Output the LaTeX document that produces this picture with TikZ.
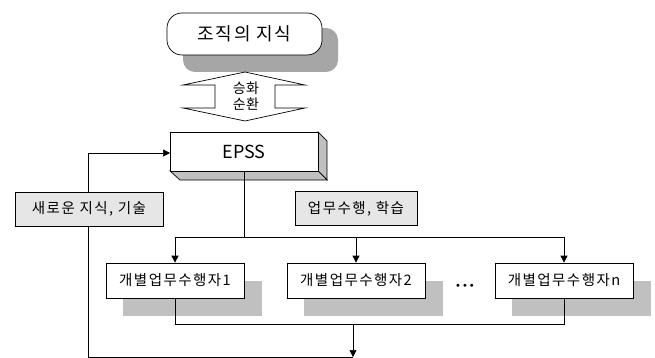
\documentclass[tikz,border=0pt]{standalone}
\usepackage{fontspec}
\setmainfont{Noto Sans CJK KR}
\newfontfamily\symfont{DejaVu Sans}
\usetikzlibrary{arrows.meta,calc}
\definecolor{shadowgray}{HTML}{C0C0C0}
\definecolor{darkshadow}{HTML}{A6A6A6}
\definecolor{labelfill}{HTML}{E6E6E6}
\tikzset{
  conn/.style={line width=0.7pt, draw=black},
  arr/.style={conn, -{Triangle[length=7pt,width=7pt]}},
  boxfont/.style={font=\fontsize{14.5}{16}\selectfont\addfontfeature{LetterSpace=10}},
  workerbox/.style={draw=black, line width=0.7pt, fill=white, minimum width=138pt, minimum height=35pt, inner sep=0pt, boxfont},
  shadowbox/.style={fill=shadowgray, draw=none, minimum width=139pt, minimum height=35pt, inner sep=0pt},
  labelbox/.style={draw=black, line width=0.7pt, fill=labelfill, minimum height=34pt, inner sep=0pt, boxfont},
  arrowtext/.style={font=\fontsize{14}{15}\selectfont\addfontfeature{LetterSpace=3}},
}
\begin{document}
\begin{tikzpicture}[x=1pt,y=-1pt]
\useasboundingbox (0,0) rectangle (655,358);
% top organisational knowledge box
\node[fill=darkshadow, rounded corners=12pt, minimum width=155pt, minimum height=44pt, inner sep=0pt] (topshadow) at (260.5,50) {};
\node[draw=black, line width=0.7pt, fill=white, rounded corners=15pt, minimum width=155pt, minimum height=42pt, inner sep=0pt, font=\fontsize{18}{20}\selectfont\addfontfeature{LetterSpace=10}] (top) at (244.5,34) {조직의 지식};
% double arrow
\draw[line width=0.7pt, fill=white] (245,72) -- (305,85) -- (275,85) -- (275,108) -- (305,108) -- (245,121) -- (183,108) -- (215,108) -- (215,85) -- (183,85) -- cycle;
\node[arrowtext] (sub1) at (246,88.5) {승화};
\node[arrowtext] (sub2) at (246,104.5) {순환};
% EPSS 3D box
\fill[shadowgray, draw=black, line width=0.7pt] (318,132) -- (327,141) -- (327,180) -- (318,171) -- cycle;
\fill[shadowgray, draw=black, line width=0.7pt] (170,171) -- (318,171) -- (327,180) -- (180,180) -- cycle;
\node[draw=black, line width=0.7pt, fill=white, minimum width=148pt, minimum height=39pt, inner sep=0pt, font=\fontsize{18}{20}\selectfont] (epss) at (244,151.5) {EPSS};
% shadows of worker boxes
\node[shadowbox] (sh1) at (192.5,298.5) {};
\node[shadowbox] (sh2) at (373,298.5) {};
\node[shadowbox] (shn) at (581,298.5) {};
% connectors
\coordinate (split) at (244,237);
\coordinate (s1) at (175,237);
\coordinate (s2) at (356,237);
\coordinate (sn) at (564,237);
\coordinate (j1) at (175,324);
\coordinate (jn) at (564,324);
\coordinate (jm) at (353,324);
\coordinate (bottom) at (353,357);
\coordinate (corner) at (88,357);
\draw[conn] (epss.south) -- (split);
\draw[conn] (s1) -- (sn);
% feedback loop
\draw[conn] (bottom) -- (corner) -- (88,153) coordinate (lefttop);
\draw[arr] (lefttop) -- (170,153);
% label boxes
\node[labelbox, minimum width=148pt] (newk) at (89,209) {새로운 지식, 기술};
\node[labelbox, minimum width=122pt] (work) at (356,208.5) {업무수행, 학습};
% worker boxes
\node[workerbox] (w1) at (175,280.5) {개별업무수행자1};
\node[workerbox] (w2) at (356,280.5) {개별업무수행자2};
\node[workerbox] (wn) at (564,280.5) {개별업무수행자n};
\node[font=\symfont\fontsize{10}{11}\selectfont\addfontfeature{LetterSpace=10}] (dots) at (465,287) {•••};
\draw[arr] (s1) -- (w1.north);
\draw[arr] (s2) -- (w2.north);
\draw[arr] (sn) -- (wn.north);
\draw[conn] (w1.south) -- (j1) -- (jn) -- (wn.south);
\draw[arr] (jm) -- (bottom);
\end{tikzpicture}
\end{document}
